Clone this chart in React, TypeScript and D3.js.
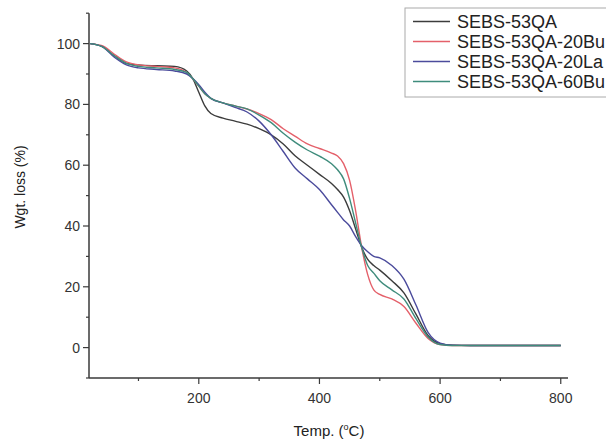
import React from "react";
import * as d3 from "d3";

const temps = [20, 40, 60, 80, 100, 130, 160, 180, 190, 200, 210, 220, 240, 260, 280, 300, 320, 340, 360, 380, 400, 420, 430, 440, 450, 460, 470, 480, 490, 500, 520, 540, 560, 580, 600, 620, 650, 700, 750, 800];

const seriesNames = ["SEBS-53QA", "SEBS-53QA-20Bu", "SEBS-53QA-20La", "SEBS-53QA-60Bu"];

const sebs53QA = [100, 99, 96, 93.5, 93, 92.7, 92.5, 91, 88.5, 84, 79.5, 77, 75.5, 74.5, 73.5, 72, 70, 67, 63, 60, 57, 54, 52, 49.5, 45, 39, 33, 29, 27, 25.5, 22, 18, 11, 4, 1.3, 0.8, 0.7, 0.7, 0.7, 0.7];
const sebs20Bu = [100, 99.3, 96.5, 94, 93, 92.5, 92, 90.5, 88.5, 86, 83.5, 82, 80.5, 79.5, 78.5, 77, 75, 72, 69.5, 67, 65.5, 64, 63, 60.5, 55, 45, 33, 24, 19, 17.5, 16, 13.5, 8, 3, 1, 0.7, 0.7, 0.7, 0.7, 0.7];
const sebs20La = [100, 99, 95.5, 93, 92, 91.5, 91, 90, 88.5, 86.5, 84, 82, 80.5, 79, 77.5, 74.5, 70, 64.5, 59, 55.5, 52, 47, 44.5, 42, 40, 36.5, 33.5, 31.5, 30, 29.5, 27, 22.5, 14, 5, 1.5, 0.8, 0.7, 0.7, 0.7, 0.7];
const sebs60Bu = [100, 99, 96, 93.5, 92.5, 92, 91.5, 90.5, 88.5, 86, 83.5, 82, 80.5, 79.5, 78.5, 76.5, 74, 70.5, 67.5, 65, 63, 60.5, 58.5, 55.5, 49, 41, 33, 27, 24.5, 22, 19, 16, 9.5, 3.5, 1, 0.7, 0.7, 0.7, 0.7, 0.7];

const seriesValues = [sebs53QA, sebs20Bu, sebs20La, sebs60Bu];
const seriesColors = ["#3c3c3c", "#e4606a", "#4b4b9c", "#3f8c7c"];

const xMajorTicks = [200, 400, 600, 800];
const xMinorTicks = [100, 300, 500, 700];
const yMajorTicks = [0, 20, 40, 60, 80, 100];
const yMinorTicks = [-10, 10, 30, 50, 70, 90, 110];

export default function App() {
  const x = d3.scaleLinear().domain([18, 812]).range([89, 568]);
  const y = d3.scaleLinear().domain([-10, 110]).range([378, 13.2]);
  const line = d3
    .line<number>()
    .x((_, i) => x(temps[i]))
    .y((d) => y(d))
    .curve(d3.curveMonotoneX);

  const axisColor = "#3a3a3a";
  const font = "'Liberation Sans', Arial, sans-serif";

  return (
    <svg width={606} height={445} style={{ position: "absolute", left: 0, top: 0, background: "#fff" }}>
      {seriesValues.map((vals, i) => (
        <path key={i} d={line(vals) || ""} fill="none" stroke={seriesColors[i]} strokeWidth={1.4} />
      ))}
      <line x1={x(18)} x2={x(18)} y1={y(110)} y2={y(-10)} stroke={axisColor} strokeWidth={1.5} />
      {yMajorTicks.map((t) => (
        <g key={t}>
          <line x1={x(18) - 6} x2={x(18)} y1={y(t)} y2={y(t)} stroke={axisColor} strokeWidth={1.2} />
          <text x={x(18) - 9} y={y(t)} dy="0.35em" textAnchor="end" fontSize={14} fill="#333" fontFamily={font}>
            {t}
          </text>
        </g>
      ))}
      {yMinorTicks.map((t) => (
        <line key={t} x1={x(18) - 3} x2={x(18)} y1={y(t)} y2={y(t)} stroke={axisColor} strokeWidth={1.2} />
      ))}
      <line x1={x(18)} x2={x(812)} y1={y(-10)} y2={y(-10)} stroke={axisColor} strokeWidth={1.5} />
      {xMajorTicks.map((t) => (
        <g key={t}>
          <line x1={x(t)} x2={x(t)} y1={y(-10)} y2={y(-10) + 6} stroke={axisColor} strokeWidth={1.2} />
          <text x={x(t)} y={403} textAnchor="middle" fontSize={14} fill="#333" fontFamily={font}>
            {t}
          </text>
        </g>
      ))}
      {xMinorTicks.map((t) => (
        <line key={t} x1={x(t)} x2={x(t)} y1={y(-10)} y2={y(-10) + 3} stroke={axisColor} strokeWidth={1.2} />
      ))}
      <text x={329} y={436} textAnchor="middle" fontSize={15} fill="#222" fontFamily={font}>
        Temp. (<tspan dy={-6} fontSize={9}>o</tspan>
        <tspan dy={6}>C)</tspan>
      </text>
      <text transform="translate(25,187) rotate(-90)" textAnchor="middle" fontSize={14} fill="#222" fontFamily={font}>
        Wgt. loss (%)
      </text>
      <rect x={405} y={8} width={210} height={89} fill="#fff" stroke="#aaa" strokeWidth={1} />
      {seriesNames.map((n, i) => (
        <g key={n}>
          <line x1={413} x2={450} y1={21.5 + i * 20} y2={21.5 + i * 20} stroke={seriesColors[i]} strokeWidth={1.4} />
          <text x={457} y={21.5 + i * 20} dy="0.35em" fontSize={18} fill="#222" fontFamily={font}>
            {n}
          </text>
        </g>
      ))}
    </svg>
  );
}
